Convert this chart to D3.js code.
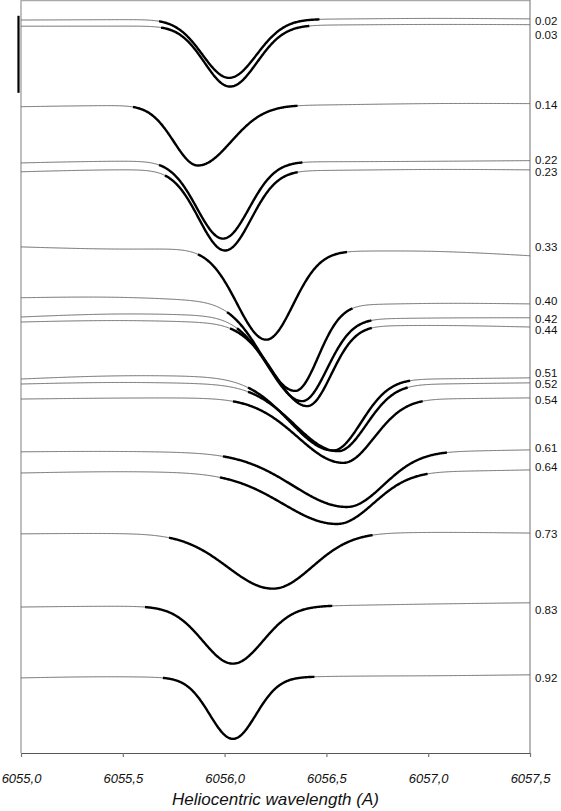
<!DOCTYPE html>
<html><head><meta charset="utf-8">
<script src="https://cdn.jsdelivr.net/npm/d3@7"></script>
<style>
html,body{margin:0;padding:0;background:#fff;}
svg{display:block;}
</style></head><body>
<svg id="chart" width="561" height="811"></svg>
<script>
// ---------------- data ----------------
const phases = ["0.02","0.03","0.14","0.22","0.23","0.33","0.40","0.42","0.44","0.51","0.52","0.54","0.61","0.64","0.73","0.83","0.92"];
const wavelengthTicks = [6055.0, 6055.5, 6056.0, 6056.5, 6057.0, 6057.5];
// continuum level (relative flux + offset) at these wavelengths
const continuumGrid = [6055.0, 6055.5, 6056.0, 6056.5, 6057.0, 6057.5];
const continuumLevels = [
  [1.903, 1.904, 1.905, 1.905, 1.908, 1.906],
  [1.887, 1.887, 1.888, 1.890, 1.892, 1.891],
  [1.678, 1.682, 1.681, 1.682, 1.687, 1.686],
  [1.532, 1.538, 1.535, 1.535, 1.536, 1.538],
  [1.509, 1.516, 1.512, 1.512, 1.516, 1.514],
  [1.314, 1.306, 1.312, 1.301, 1.306, 1.291],
  [1.182, 1.186, 1.171, 1.161, 1.169, 1.166],
  [1.132, 1.143, 1.135, 1.125, 1.130, 1.130],
  [1.119, 1.125, 1.117, 1.106, 1.112, 1.106],
  [0.971, 0.982, 0.977, 0.969, 0.971, 0.974],
  [0.958, 0.964, 0.958, 0.953, 0.958, 0.961],
  [0.919, 0.922, 0.922, 0.919, 0.919, 0.922],
  [0.782, 0.784, 0.779, 0.782, 0.782, 0.787],
  [0.727, 0.732, 0.727, 0.730, 0.730, 0.735],
  [0.569, 0.571, 0.566, 0.569, 0.574, 0.571],
  [0.379, 0.382, 0.379, 0.382, 0.387, 0.390],
  [0.195, 0.200, 0.192, 0.200, 0.200, 0.203]
];
// absorption line fit parameters
const lineCenters = [6056.022, 6056.027, 6055.869, 6055.992, 6056.002, 6056.203, 6056.346, 6056.380, 6056.405, 6056.532, 6056.557, 6056.582, 6056.601, 6056.552, 6056.238, 6056.041, 6056.041];
const lineDepths  = [0.152, 0.158, 0.156, 0.200, 0.208, 0.234, 0.225, 0.215, 0.209, 0.185, 0.171, 0.166, 0.143, 0.135, 0.141, 0.148, 0.158];
const sigmaBlue   = [0.130, 0.125, 0.118, 0.128, 0.128, 0.142, 0.162, 0.162, 0.162, 0.211, 0.211, 0.221, 0.265, 0.265, 0.221, 0.147, 0.113];
const sigmaRed    = [0.135, 0.132, 0.162, 0.128, 0.128, 0.133, 0.113, 0.123, 0.118, 0.138, 0.138, 0.152, 0.179, 0.179, 0.192, 0.147, 0.113];
const fitStart    = [6055.678, 6055.688, 6055.550, 6055.678, 6055.707, 6055.869, 6056.012, 6056.061, 6056.027, 6056.115, 6056.115, 6056.041, 6055.992, 6055.977, 6055.727, 6055.609, 6055.697];
const fitEnd      = [6056.469, 6056.419, 6056.360, 6056.385, 6056.361, 6056.601, 6056.631, 6056.724, 6056.724, 6056.911, 6056.901, 6056.974, 6057.092, 6056.999, 6056.729, 6056.532, 6056.444];
// vertical position of the phase labels (same units as the spectra)
const labelLevels = [1.901, 1.864, 1.684, 1.540, 1.509, 1.313, 1.174, 1.127, 1.099, 0.987, 0.958, 0.918, 0.792, 0.743, 0.570, 0.371, 0.196];
// flux scale bar (top, bottom)
const scaleBar = [1.914, 1.714];
const xTitle = "Heliocentric wavelength (A)";

// ---------------- drawing ----------------
const svg = d3.select("#chart");
const x = d3.scaleLinear().domain([6055, 6057.5]).range([21, 530]);
const y = d3.scaleLinear().domain([0, 1.955]).range([753, 0]);

const contFns = continuumLevels.map(levels => {
  const f = d3.interpolateBasis(levels);
  const t = d3.scaleLinear().domain(d3.extent(continuumGrid)).range([0, 1]).clamp(true);
  return w => f(t(w));
});
function model(i, w) {
  const s = w < lineCenters[i] ? sigmaBlue[i] : sigmaRed[i];
  const d = w - lineCenters[i];
  return contFns[i](w) - lineDepths[i] * Math.exp(-d * d / (2 * s * s));
}
const line = d3.line().x(d => x(d[0])).y(d => y(d[1]));

// frame
const g = svg.append("g");
g.append("path")
  .attr("d", `M${x(6055)},${y(1.955)+0.5}H${x(6057.5)}`)
  .attr("stroke", "#aaa").attr("stroke-width", 1.5).attr("fill", "none");
g.append("path")
  .attr("d", `M${x(6055)},${y(1.955)}V${y(0)}`)
  .attr("stroke", "#aaa").attr("stroke-width", 1.5).attr("fill", "none");
g.append("path")
  .attr("d", `M${x(6057.5)},${y(1.955)}V${y(0)}`)
  .attr("stroke", "#888").attr("stroke-width", 1.2).attr("fill", "none");

// observed spectra
const step = 0.004;
const wl = d3.range(6055, 6057.5 + 1e-9, step);
const obs = svg.append("g");
phases.forEach((p, i) => {
  obs.append("path")
    .attr("d", line(wl.map(w => [w, model(i, w)])))
    .attr("fill", "none").attr("stroke", "#6a6a6a").attr("stroke-width", 1);
});
// fits
const fits = svg.append("g");
phases.forEach((p, i) => {
  const ws = d3.range(fitStart[i], fitEnd[i] + 1e-9, step);
  fits.append("path")
    .attr("d", line(ws.map(w => [w, model(i, w)])))
    .attr("fill", "none").attr("stroke", "#000").attr("stroke-width", 2.4)
    .attr("stroke-linecap", "butt");
});

// phase labels
svg.append("g").selectAll("text").data(phases).join("text")
  .attr("x", x(6057.5) + 5)
  .attr("y", (d, i) => y(labelLevels[i]))
  .attr("dy", "0.36em")
  .attr("font-family", "Liberation Sans, Arial, sans-serif")
  .attr("font-size", 11.5).attr("fill", "#111")
  .text(d => d);

// scale bar
svg.append("line")
  .attr("x1", x(6055) - 2.5).attr("x2", x(6055) - 2.5)
  .attr("y1", y(scaleBar[0])).attr("y2", y(scaleBar[1]))
  .attr("stroke", "#000").attr("stroke-width", 2.2);

// x axis
const axis = d3.axisBottom(x).tickValues(wavelengthTicks)
  .tickFormat(d => d3.format(".1f")(d).replace(".", ","))
  .tickSize(4).tickSizeOuter(0).tickPadding(17);
const ax = svg.append("g").attr("transform", `translate(0,${y(0)})`).call(axis);
ax.select(".domain").attr("stroke", "#555").attr("stroke-width", 1.2);
ax.selectAll(".tick line").attr("stroke", "#777").attr("stroke-width", 1.2);
ax.selectAll(".tick text")
  .attr("font-family", "Liberation Sans, Arial, sans-serif")
  .attr("font-style", "italic").attr("font-size", 13).attr("fill", "#111");

svg.append("text")
  .attr("x", (x(6055) + x(6057.5)) / 2).attr("y", 805)
  .attr("text-anchor", "middle")
  .attr("font-family", "Liberation Sans, Arial, sans-serif")
  .attr("font-style", "italic").attr("font-size", 17).attr("fill", "#111")
  .text(xTitle);
</script>
</body></html>
